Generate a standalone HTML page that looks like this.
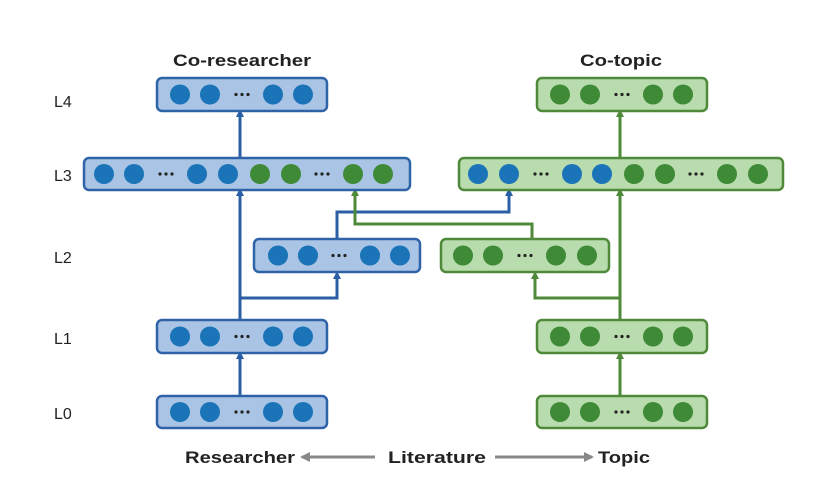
<!DOCTYPE html>
<html><head><meta charset="utf-8"><style>
html,body{margin:0;padding:0;background:#fff;width:830px;height:503px;overflow:hidden}
svg text{font-family:"Liberation Sans",sans-serif}
</style></head><body>
<svg id="s" width="830" height="503" viewBox="0 0 830 503" xmlns="http://www.w3.org/2000/svg">
<defs>
<marker id="ab" markerWidth="8" markerHeight="8" refX="4" refY="4" orient="auto" markerUnits="userSpaceOnUse"><path d="M0,0 L8,4 L0,8 z" fill="#2a5fa5"/></marker>
<marker id="ag" markerWidth="8" markerHeight="8" refX="4" refY="4" orient="auto" markerUnits="userSpaceOnUse"><path d="M0,0 L8,4 L0,8 z" fill="#4f8a3a"/></marker>
<marker id="ay" markerWidth="10" markerHeight="10" refX="8" refY="5" orient="auto" markerUnits="userSpaceOnUse"><path d="M0,0 L10,5 L0,10 z" fill="#888"/></marker>
</defs>
<g fill="none" stroke-width="3">
<path d="M240 395 V355" stroke="#2a5fa5" marker-end="url(#ab)"/>
<path d="M240 319 V192" stroke="#2a5fa5" marker-end="url(#ab)"/>
<path d="M240 298 H337 V275" stroke="#2a5fa5" marker-end="url(#ab)"/>
<path d="M337 238 V212 H509 V192" stroke="#2a5fa5" marker-end="url(#ab)"/>
<path d="M240 158 V113" stroke="#2a5fa5" marker-end="url(#ab)"/>
<path d="M620 395 V355" stroke="#4f8a3a" marker-end="url(#ag)"/>
<path d="M620 319 V192" stroke="#4f8a3a" marker-end="url(#ag)"/>
<path d="M620 298 H535 V275" stroke="#4f8a3a" marker-end="url(#ag)"/>
<path d="M532 238 V224 H355 V192" stroke="#4f8a3a" marker-end="url(#ag)"/>
<path d="M620 158 V113" stroke="#4f8a3a" marker-end="url(#ag)"/>
<path d="M375 457 H302" stroke="#888" marker-end="url(#ay)"/>
<path d="M495 457 H592" stroke="#888" marker-end="url(#ay)"/>
</g>
<g font-size="16" fill="#222">
<text x="54" y="107">L4</text><text x="54" y="181">L3</text><text x="54" y="263">L2</text><text x="54" y="344">L1</text><text x="54" y="419">L0</text>
</g>
<g font-size="17" font-weight="bold" fill="#222">
<text x="242" y="66" text-anchor="middle" textLength="138" lengthAdjust="spacingAndGlyphs">Co-researcher</text>
<text x="621" y="66" text-anchor="middle" textLength="82" lengthAdjust="spacingAndGlyphs">Co-topic</text>
<text x="185" y="463" textLength="110" lengthAdjust="spacingAndGlyphs">Researcher</text>
<text x="388" y="463" textLength="98" lengthAdjust="spacingAndGlyphs">Literature</text>
<text x="598" y="463" textLength="52" lengthAdjust="spacingAndGlyphs">Topic</text>
</g>
<g id="boxes"></g>
</svg>
<script>
var B='#1b74b8',G='#3f8a36';
var boxes=[
 [157,78,170,33,'b',[[180,B],[210,B],[242,'d'],[273,B],[303,B]]],
 [537,78,170,33,'g',[[560,G],[590,G],[622,'d'],[653,G],[683,G]]],
 [84,158,326,32,'b',[[104,B],[134,B],[166,'d'],[197,B],[228,B],[260,G],[291,G],[322,'d'],[353,G],[383,G]]],
 [459,158,324,32,'g',[[478,B],[509,B],[541,'d'],[572,B],[602,B],[634,G],[665,G],[696,'d'],[727,G],[758,G]]],
 [254,239,166,33,'b',[[278,B],[308,B],[339,'d'],[370,B],[400,B]]],
 [441,239,168,33,'g',[[463,G],[493,G],[525,'d'],[556,G],[587,G]]],
 [157,320,170,33,'b',[[180,B],[210,B],[242,'d'],[273,B],[303,B]]],
 [537,320,170,33,'g',[[560,G],[590,G],[622,'d'],[653,G],[683,G]]],
 [157,396,170,32,'b',[[180,B],[210,B],[242,'d'],[273,B],[303,B]]],
 [537,396,170,32,'g',[[560,G],[590,G],[622,'d'],[653,G],[683,G]]]
];
var h='';
boxes.forEach(function(b){
 var fill=b[4]=='b'?'#a9c4e4':'#b9dcae',st=b[4]=='b'?'#2f63a8':'#4f8a3a';
 h+='<rect x="'+b[0]+'" y="'+b[1]+'" width="'+b[2]+'" height="'+b[3]+'" rx="5" fill="'+fill+'" stroke="'+st+'" stroke-width="2.5"/>';
 var cy=b[1]+b[3]/2;
 b[5].forEach(function(c){
  if(c[1]=='d'){for(var i=-1;i<=1;i++)h+='<circle cx="'+(c[0]+i*6)+'" cy="'+cy+'" r="1.6" fill="#222"/>';}
  else h+='<circle cx="'+c[0]+'" cy="'+cy+'" r="10" fill="'+c[1]+'"/>';
 });
});
document.getElementById('boxes').innerHTML=h;
</script>
</body></html>
